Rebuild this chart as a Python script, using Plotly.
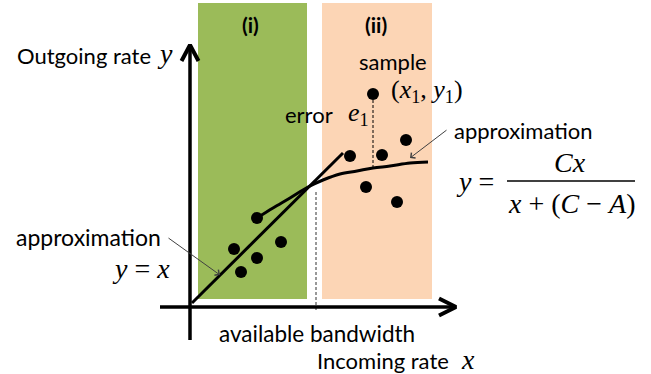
import plotly.graph_objects as go

# ---- data (diagram units: origin at axis crossing) ----
green_x = [67, 44, 67, 51, 91]
green_y = [88, 57, 48, 34, 64]
orange_x = [183, 160, 192, 216, 176, 207]
orange_y = [212, 150, 151, 166, 119, 104]
linear_x = [2, 153]
linear_y = [3, 153]
curve_x = [67, 83, 100, 118, 133, 150, 167, 183, 200, 220, 238]
curve_y = [88, 98, 108, 119, 126, 132, 135, 138, 140, 143, 144]
region1 = [8, 117]
region2 = [132, 242]
bandwidth_A = 126
region_top = 303
region_bottom = 7

W, H = 651, 374
OX, OY = 190, 306  # pixel position of origin


def P(px, py):
    return px - OX, OY - py


SANS = "Lato"
SERIF = "Liberation Serif"
fs = 22

fig = go.Figure()

shapes = []
# shaded regions
shapes.append(dict(type="rect", x0=region1[0], x1=region1[1], y0=region_bottom, y1=region_top,
                   fillcolor="#9BBB59", line_width=0, layer="below"))
shapes.append(dict(type="rect", x0=region2[0], x1=region2[1], y0=region_bottom, y1=region_top,
                   fillcolor="#FCD5B5", line_width=0, layer="below"))
# bandwidth dashed line
shapes.append(dict(type="line", x0=bandwidth_A, x1=bandwidth_A, y0=-4, y1=116,
                   line=dict(color="#333", width=1, dash="3px,2px")))
# axes
shapes.append(dict(type="line", x0=0, x1=0, y0=-34, y1=259, line=dict(color="black", width=3.5)))
shapes.append(dict(type="line", x0=-30, x1=264, y0=-1, y1=-1, line=dict(color="black", width=3.5)))
# fraction bar
shapes.append(dict(type="line", x0=507 - OX, x1=635 - OX, y0=OY - 181, y1=OY - 181,
                   line=dict(color="black", width=1.5)))
fig.update_layout(shapes=shapes)

# arrow heads (chevrons)
ax_, ay_ = P(456, 307)
fig.add_trace(go.Scatter(x=[ax_ - 17, ax_, ax_ - 17], y=[ay_ + 8.5, ay_, ay_ - 8.5], mode="lines",
                         line=dict(color="black", width=4), hoverinfo="skip"))
bx_, by_ = P(190, 45)
fig.add_trace(go.Scatter(x=[bx_ - 8.5, bx_, bx_ + 8.5], y=[by_ - 16, by_, by_ - 16], mode="lines",
                         line=dict(color="black", width=4), hoverinfo="skip"))

# y = x line
fig.add_trace(go.Scatter(x=linear_x, y=linear_y, mode="lines", line=dict(color="black", width=3),
                         hoverinfo="skip"))
# curve
fig.add_trace(go.Scatter(x=curve_x, y=curve_y, mode="lines", line=dict(color="black", width=3, shape="spline"),
                         hoverinfo="skip"))
# error line
fig.add_trace(go.Scatter(x=[orange_x[0], orange_x[0]], y=[orange_y[0] - 6, curve_y[7]], mode="lines",
                         line=dict(color="black", width=1, dash="3px,2px"), hoverinfo="skip"))
# points
fig.add_trace(go.Scatter(x=green_x + orange_x, y=green_y + orange_y, mode="markers",
                         marker=dict(color="black", size=12), hoverinfo="skip"))

ann = []


def T(px, py, text, family=SANS, size=fs, xanchor="center", yanchor="middle", **kw):
    x, y = P(px, py)
    ann.append(dict(x=x, y=y, text=text, showarrow=False, xanchor=xanchor, yanchor=yanchor,
                    font=dict(family=family, size=size, color="black"), **kw))


T(250, 24, "<b>(i)</b>", size=21)
T(376, 24, "<b>(ii)</b>", size=21)
T(15, 55, "Outgoing rate", xanchor="left")
T(165, 53, "<i>y</i>", family=SERIF, size=28)
T(393, 61, "sample", yanchor="middle")
T(427, 91, "(<i>x</i><sub>1</sub>, <i>y</i><sub>1</sub>)", family=SERIF, size=26)
T(335, 114, "error", xanchor="right")
T(346, 114, "<i>e</i><sub>1</sub>", family=SERIF, size=26, xanchor="left")
T(452, 130, "approximation", xanchor="left")
T(14, 237, "approximation", xanchor="left", size=23)
T(141, 268, "<i>y</i> = <i>x</i>", family=SERIF, size=28)
T(217, 333, "available bandwidth", xanchor="left", size=22.5)
T(315, 360, "Incoming rate", xanchor="left")
T(468, 359, "<i>x</i>", family=SERIF, size=28)
# formula
T(475, 181, "<i>y</i> =", family=SERIF, size=28)
T(570, 162, "<i>Cx</i>", family=SERIF, size=28)
T(571, 203, "<i>x</i> + (<i>C</i> − <i>A</i>)", family=SERIF, size=28)

# pointer arrows
for (tx, ty, sx, sy) in [(410, 158, 448, 129), (220, 275, 167, 237)]:
    x, y = P(tx, ty)
    ann.append(dict(x=x, y=y, ax=sx - tx, ay=sy - ty, axref="pixel", ayref="pixel", text="",
                    showarrow=True, arrowhead=4, arrowsize=1.3, arrowwidth=1, arrowcolor="#404040"))

fig.update_layout(annotations=ann)

fig.update_layout(
    width=W, height=H, margin=dict(l=0, r=0, t=0, b=0),
    paper_bgcolor="white", plot_bgcolor="white", showlegend=False,
    xaxis=dict(range=[-OX, W - OX], visible=False, fixedrange=True),
    yaxis=dict(range=[OY - H, OY], visible=False, fixedrange=True),
)

fig.write_html("out.html", config={"displayModeBar": False},
               post_script="document.body.style.margin='0px';document.body.style.overflow='hidden';")
